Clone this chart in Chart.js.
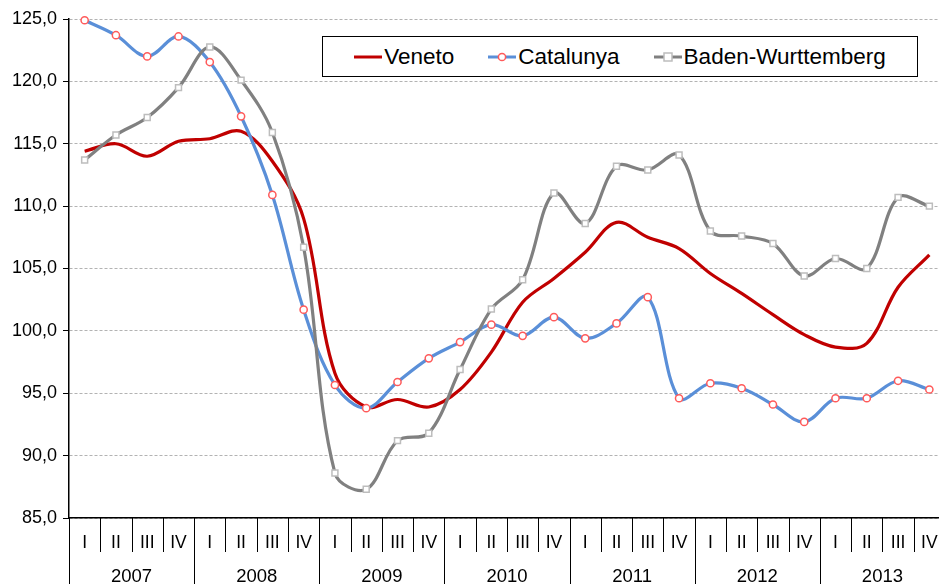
<!DOCTYPE html>
<html>
<head>
<meta charset="utf-8">
<script src="https://cdn.jsdelivr.net/npm/chart.js@4/dist/chart.umd.min.js"></script>
<style>
  html,body{margin:0;padding:0;background:#fff;overflow:hidden;}
  #wrap{position:relative;width:945px;height:584px;}
  canvas{position:absolute;left:0;top:0;width:945px;height:584px;}
  #legend{position:absolute;left:322px;top:36px;width:594px;height:39px;border:1.5px solid #000;background:#fff;
    display:flex;align-items:center;justify-content:center;gap:34px;font-family:"Liberation Sans",Arial,sans-serif;font-size:22.5px;color:#000;}
  .item{display:flex;align-items:center;gap:2px;white-space:nowrap;}
</style>
</head>
<body>
<div id="wrap">
<canvas id="c" width="945" height="584"></canvas>
<div id="legend"></div>
</div>
<script>
const quarters = ["I","II","III","IV","I","II","III","IV","I","II","III","IV","I","II","III","IV","I","II","III","IV","I","II","III","IV","I","II","III","IV"];
const years = ["2007","2008","2009","2010","2011","2012","2013"];
const yTicks = [85,90,95,100,105,110,115,120,125];

const veneto = [114.4,115.0,114.0,115.2,115.4,116.0,113.6,109.0,96.6,93.9,94.5,93.9,95.3,98.3,102.3,104.2,106.3,108.7,107.5,106.6,104.6,103.0,101.3,99.7,98.7,99.0,103.5,106.1];
const catalunya = [124.9,123.7,122.0,123.6,121.55,117.2,110.9,101.7,95.66,93.8,95.9,97.8,99.1,100.5,99.6,101.1,99.4,100.6,102.7,94.6,95.8,95.4,94.1,92.7,94.6,94.6,96.0,95.3];
const baden = [113.7,115.7,117.1,119.5,122.76,120.1,115.9,106.7,88.6,87.3,91.2,91.8,96.9,101.75,104.1,111.05,108.6,113.2,112.9,114.1,108.0,107.6,107.0,104.4,105.8,105.0,110.7,110.0];

const FONT = '"Liberation Sans", Arial, sans-serif';

const sepPlugin = {
  id: 'sep',
  afterDraw(chart){
    const ctx = chart.ctx, xs = chart.scales.x, area = chart.chartArea;
    const w = xs.getPixelForValue(1) - xs.getPixelForValue(0);
    const y0 = area.bottom;
    ctx.save();
    ctx.strokeStyle = '#000';
    ctx.lineWidth = 1;
    for (let i = 0; i <= quarters.length; i++){
      const x = Math.round(xs.getPixelForValue(0) - w/2 + i*w) + 0.5;
      ctx.beginPath();
      ctx.moveTo(x, y0);
      ctx.lineTo(x, i % 4 === 0 ? chart.height : y0 + 34);
      ctx.stroke();
    }
    ctx.fillStyle = '#000';
    ctx.font = '18.5px ' + FONT;
    ctx.textAlign = 'center';
    ctx.textBaseline = 'middle';
    years.forEach((yr, k) => {
      const xc = (xs.getPixelForValue(4*k) + xs.getPixelForValue(4*k+3)) / 2;
      ctx.fillText(yr, xc, y0 + 59);
    });
    ctx.restore();
  }
};

const chart = new Chart(document.getElementById('c'), {
  type: 'line',
  data: {
    labels: quarters,
    datasets: [
      {label:'Veneto', data: veneto, borderColor:'#C00000', backgroundColor:'#C00000', borderWidth:3.2,
       pointRadius:0, tension:0.35, order:3, clip:false},
      {label:'Catalunya', data: catalunya, borderColor:'#5A8FD8', backgroundColor:'#ffffff', borderWidth:3.2,
       pointStyle:'circle', pointRadius:3.6, pointBorderColor:'#FF5A5A', pointBackgroundColor:'#ffffff', pointBorderWidth:1.5,
       tension:0.35, order:2, clip:false},
      {label:'Baden-Wurttemberg', data: baden, borderColor:'#808080', backgroundColor:'#ffffff', borderWidth:3.2,
       pointStyle:'rect', pointRadius:4.2, pointBorderColor:'#BDBDBD', pointBackgroundColor:'#ffffff', pointBorderWidth:1.5,
       tension:0.35, order:1, clip:false}
    ]
  },
  options: {
    responsive:false, animation:false,
    layout:{autoPadding:false, padding:{top:19,right:0,bottom:0,left:0}},
    plugins:{legend:{display:false}, tooltip:{enabled:false}},
    scales:{
      x:{
        offset:true,
        grid:{display:true, drawOnChartArea:false, drawTicks:true, tickLength:15, tickColor:'rgba(0,0,0,0)'},
        border:{display:true, color:'#000', width:1.5},
        ticks:{color:'#000', font:{family:FONT, size:17.5}, padding:0, maxRotation:0, autoSkip:false},
        afterFit(s){ s.height = 66; s.paddingLeft = 0; s.paddingRight = 0; }
      },
      y:{
        min:85, max:125,
        afterBuildTicks(s){ s.ticks = yTicks.map(v => ({value:v})); },
        grid:{color:'#B3B3B3', lineWidth:1, tickColor:'#000', tickLength:6, tickBorderDash:[]},
        border:{display:true, color:'#000', width:1.5, dash:[3,2]},
        ticks:{color:'#000', font:{family:FONT, size:18}, padding:6,
          callback:(v)=> Number(v).toFixed(1).replace('.', ',')},
        afterFit(s){ s.width = 69; }
      }
    }
  },
  plugins:[sepPlugin]
});

// HTML legend built from datasets
const leg = document.getElementById('legend');
chart.data.datasets.forEach(ds => {
  const item = document.createElement('div'); item.className = 'item';
  let marker = '';
  if (ds.pointStyle === 'circle') marker = `<circle cx="14" cy="8" r="3.6" fill="#fff" stroke="${ds.pointBorderColor}" stroke-width="1.5"/>`;
  if (ds.pointStyle === 'rect') marker = `<rect x="10" y="4" width="8" height="8" fill="#fff" stroke="${ds.pointBorderColor}" stroke-width="1.5"/>`;
  item.innerHTML = `<svg width="28" height="16"><line x1="0" y1="8" x2="28" y2="8" stroke="${ds.borderColor}" stroke-width="3"/>${marker}</svg><span>${ds.label}</span>`;
  leg.appendChild(item);
});
</script>
</body>
</html>
